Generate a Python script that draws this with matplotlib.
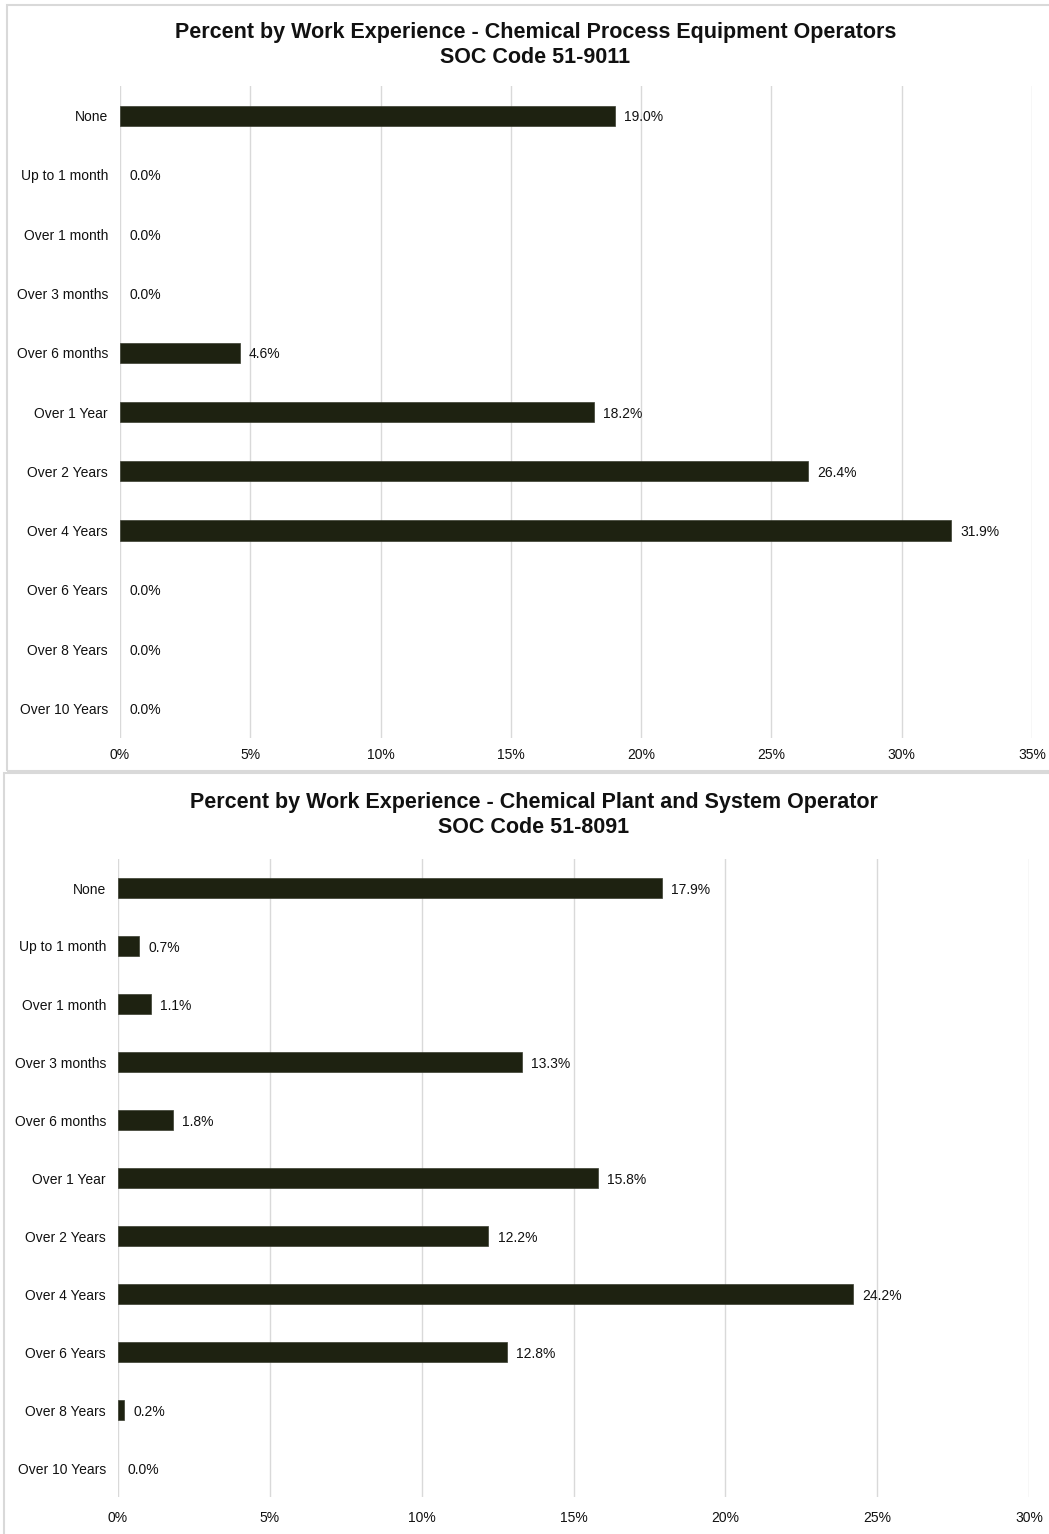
import matplotlib
matplotlib.use("Agg")
import matplotlib.pyplot as plt
from matplotlib.patches import Rectangle

plt.rcParams['font.family'] = ['Liberation Sans', 'DejaVu Sans']

categories = ["None", "Up to 1 month", "Over 1 month", "Over 3 months", "Over 6 months",
              "Over 1 Year", "Over 2 Years", "Over 4 Years", "Over 6 Years",
              "Over 8 Years", "Over 10 Years"]

top_values = [19.0, 0.0, 0.0, 0.0, 4.6, 18.2, 26.4, 31.9, 0.0, 0.0, 0.0]
bottom_values = [17.9, 0.7, 1.1, 13.3, 1.8, 15.8, 12.2, 24.2, 12.8, 0.2, 0.0]

top_title = ["Percent by Work Experience - Chemical Process Equipment Operators", "SOC Code 51-9011"]
bottom_title = ["Percent by Work Experience - Chemical Plant and System Operator", "SOC Code 51-8091"]

top_ticks = [0, 5, 10, 15, 20, 25, 30, 35]
bottom_ticks = [0, 5, 10, 15, 20, 25, 30]

W, H = 1049, 1534
fig = plt.figure(figsize=(W / 100, H / 100), dpi=100)
fig.patch.set_facecolor("white")

bar_color = "#1e2211"
grid_color = "#d9d9d9"
border_color = "#d9d9d9"

# panel borders
fig.add_artist(Rectangle((7 / W, 1 - 771 / H), (W + 5 - 7) / W, (771 - 5) / H,
                         transform=fig.transFigure, fill=False, edgecolor=border_color, lw=1.5))
fig.add_artist(Rectangle((4 / W, -0.01), (W + 5 - 4) / W, 1 - 773 / H + 0.01,
                         transform=fig.transFigure, fill=False, edgecolor=border_color, lw=1.5))


def draw(ax_rect, values, ticks, title, title_x, title_ys, tick_pad):
    ax = fig.add_axes(ax_rect)
    n = len(categories)
    ypos = list(range(n))
    bars = ax.barh(ypos, values, height=0.34, color=bar_color, linewidth=0, zorder=3)
    for b, v in zip(bars, values):
        if v > 0:
            b.set_edgecolor("#3a3d30")
            b.set_linewidth(0.5)
    for y, v in zip(ypos, values):
        ax.annotate(f"{v:.1f}%", xy=(v, y), xytext=(6.5, 0), textcoords="offset points",
                    va="center_baseline", ha="left", fontsize=10, color="#111111", zorder=4)
    ax.set_ylim(n - 0.5, -0.5)
    ax.set_xlim(ticks[0], ticks[-1])
    ax.set_yticks(ypos)
    ax.set_yticklabels(categories, fontsize=10, color="#111111")
    ax.set_xticks(ticks)
    ax.set_xticklabels([f"{t}%" for t in ticks], fontsize=10, color="#111111")
    ax.tick_params(axis="both", length=0)
    ax.tick_params(axis="y", pad=8.6)
    ax.tick_params(axis="x", pad=tick_pad)
    ax.grid(axis="x", color=grid_color, linewidth=1.0, zorder=0)
    ax.set_axisbelow(True)
    for s in ax.spines.values():
        s.set_visible(False)
    for line, ty in zip(title, title_ys):
        fig.text(title_x, 1 - ty / H, line, ha="center", va="center_baseline", fontsize=15.5,
                 fontweight="bold", color="#111111")
    return ax


# top chart
draw([120 / W, 1 - 738 / H, (1032 - 120) / W, (738 - 86) / H],
     top_values, top_ticks, top_title, 535.5 / W, (30, 55), 7)

# bottom chart
draw([118 / W, 1 - 1497 / H, (1029 - 118) / W, (1497 - 859) / H],
     bottom_values, bottom_ticks, bottom_title, 534 / W, (800, 825), 10)

fig.savefig("out.png", dpi=100, facecolor="white")
